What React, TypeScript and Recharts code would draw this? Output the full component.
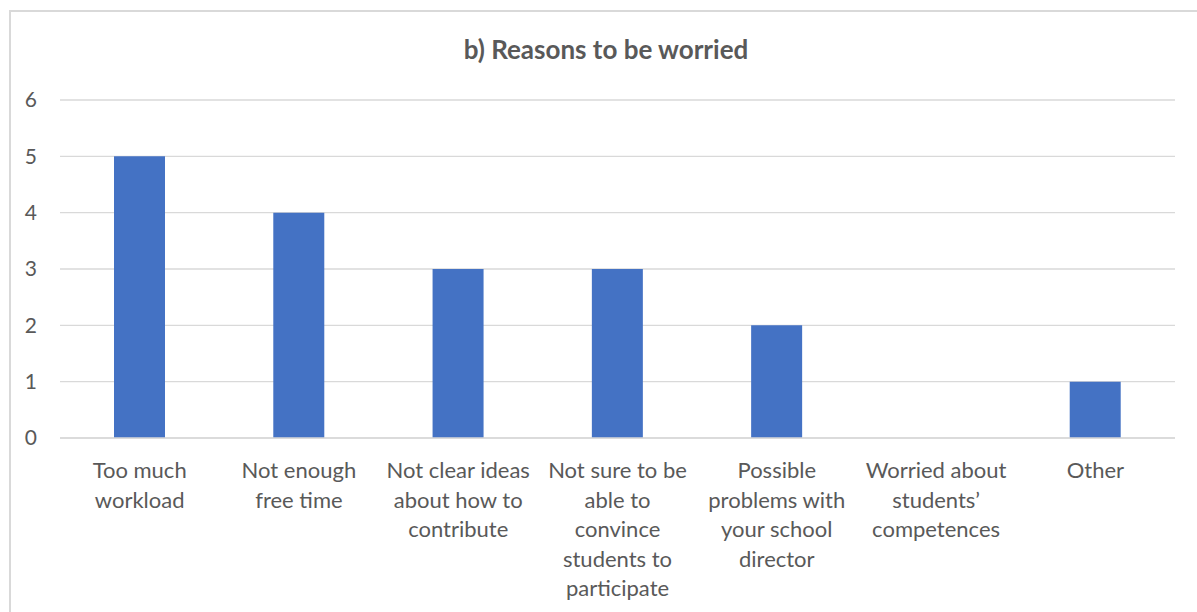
import { BarChart, Bar, XAxis, YAxis, CartesianGrid } from "recharts";

const categories = [
  "Too much\nworkload",
  "Not enough\nfree time",
  "Not clear ideas\nabout how to\ncontribute",
  "Not sure to be\nable to\nconvince\nstudents to\nparticipate",
  "Possible\nproblems with\nyour school\ndirector",
  "Worried about\nstudents’\ncompetences",
  "Other",
];

const counts = [5, 4, 3, 3, 2, 0, 1];

const yTicks = [0, 1, 2, 3, 4, 5, 6];

const data = categories.map((name, i) => ({ name, value: counts[i] }));

const FONT = "Lato, 'Open Sans', sans-serif";
const TEXT = "#595959";

function CategoryTick(props: any) {
  const { x, payload } = props;
  const lines = String(payload.value).split("\n");
  return (
    <text x={x} y={478} textAnchor="middle" fill={TEXT} fontSize={22} fontFamily={FONT}>
      {lines.map((line, i) => (
        <tspan key={i} x={x} dy={i === 0 ? 0 : 29.5}>
          {line}
        </tspan>
      ))}
    </text>
  );
}

export default function App() {
  return (
    <div style={{ position: "absolute", left: 0, top: 0, width: 1197, height: 612, overflow: "hidden", background: "#fff" }}>
      {/* chart frame, right and bottom edges fall outside the picture */}
      <div
        style={{
          position: "absolute",
          left: 9,
          top: 10,
          width: 1200,
          height: 700,
          borderLeft: "2px solid #d9d9d9",
          borderTop: "2px solid #d9d9d9",
        }}
      />
      <div
        style={{
          position: "absolute",
          left: 0,
          width: 1212,
          top: 33,
          textAlign: "center",
          fontFamily: FONT,
          fontWeight: 700,
          fontSize: 26,
          lineHeight: "32px",
          color: TEXT,
        }}
      >
        b) Reasons to be worried
      </div>
      <div style={{ position: "absolute", left: 0, top: 0 }}>
        <BarChart
          width={1197}
          height={612}
          data={data}
          margin={{ top: 100, right: 22, bottom: 0, left: 0 }}
          barCategoryGap={54}
        >
          <CartesianGrid vertical={false} stroke="#d9d9d9" strokeWidth={1.3} />
          <XAxis
            dataKey="name"
            axisLine={{ stroke: "#d9d9d9", strokeWidth: 1.3 }}
            tickLine={false}
            height={174}
            interval={0}
            tick={<CategoryTick />}
          />
          <YAxis
            domain={[0, 6]}
            ticks={yTicks}
            axisLine={false}
            tickLine={false}
            width={60}
            tickMargin={17}
            tick={{ fontSize: 21, fill: TEXT, fontFamily: FONT }}
          />
          <Bar dataKey="value" fill="#4472c4" isAnimationActive={false} />
        </BarChart>
      </div>
    </div>
  );
}
